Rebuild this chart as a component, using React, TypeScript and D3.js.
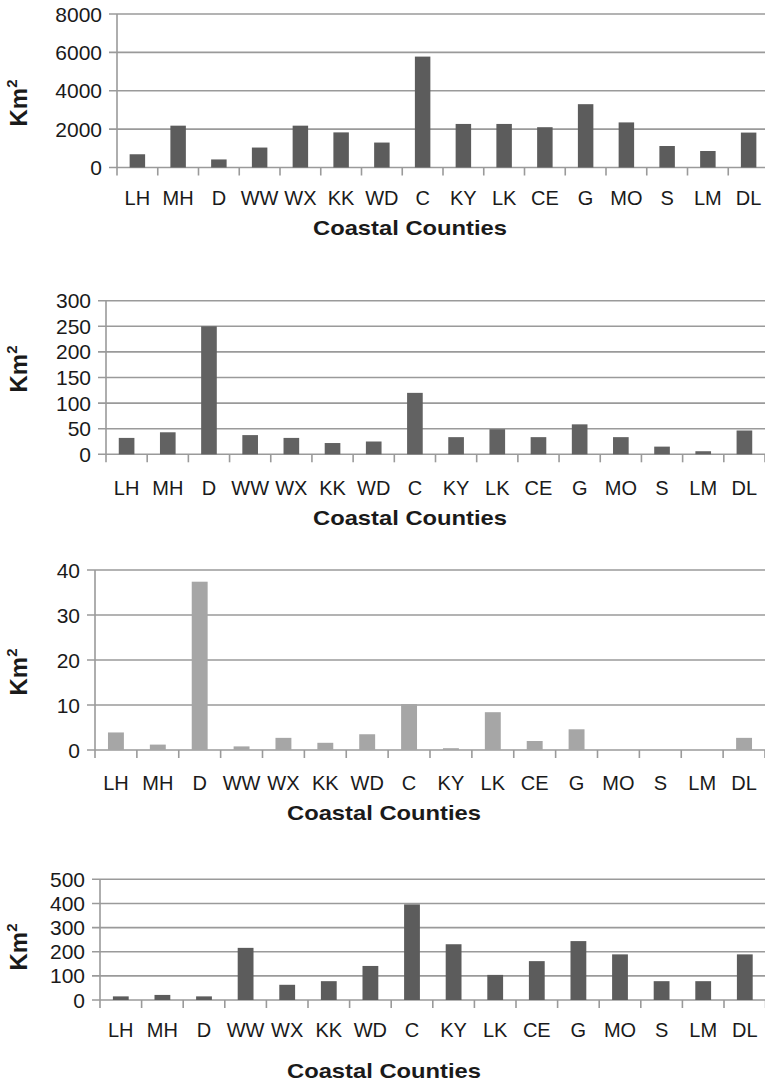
import React from "react";
import * as d3 from "d3";

// Coastal county codes (x-axis categories, shared by all panels)
const counties = ["LH", "MH", "D", "WW", "WX", "KK", "WD", "C", "KY", "LK", "CE", "G", "MO", "S", "LM", "DL"];

// Area per county, one series per panel (km²)
const areaPanelA = [690, 2180, 420, 1040, 2180, 1830, 1300, 5780, 2270, 2270, 2100, 3300, 2350, 1120, 860, 1820];
const areaPanelB = [32, 43, 250, 37.5, 32, 22, 25, 120, 33.5, 49, 33.5, 58.5, 33.5, 15, 6, 46.5];
const areaPanelC = [3.9, 1.2, 37.4, 0.8, 2.7, 1.6, 3.5, 10.2, 0.4, 8.4, 2.0, 4.6, 0, 0, 0, 2.7];
const areaPanelD = [15, 21, 15, 216, 63, 78, 141, 396, 231, 104, 161, 244, 189, 78, 78, 189];

// Y-axis tick values per panel
const ticksA = [0, 2000, 4000, 6000, 8000];
const ticksB = [0, 50, 100, 150, 200, 250, 300];
const ticksC = [0, 10, 20, 30, 40];
const ticksD = [0, 100, 200, 300, 400, 500];

const FONT = "'Liberation Sans', Arial, Helvetica, sans-serif";

type PanelProps = {
  values: number[];
  ticks: number[];
  left: number;
  right: number;
  top: number;
  bottom: number;
  fill: string;
  labelY: number;
  titleY: number;
  titleX: number;
  unitY: number;
};

function Panel(p: PanelProps) {
  const yMax = p.ticks[p.ticks.length - 1];
  const y = d3.scaleLinear().domain([0, yMax]).range([p.bottom, p.top]);
  const x = d3
    .scaleBand<string>()
    .domain(counties)
    .range([p.left, p.right])
    .paddingInner(0.62)
    .paddingOuter(0.31);
  const step = x.step();
  const grid = "#9a9a9a";

  return (
    <g>
      {/* horizontal gridlines with left tick stubs */}
      {p.ticks.map((t) => (
        <line
          key={"g" + t}
          x1={p.left - 8}
          x2={p.right}
          y1={y(t)}
          y2={y(t)}
          stroke={grid}
          strokeWidth={1.6}
        />
      ))}
      {/* y axis line */}
      <line x1={p.left} x2={p.left} y1={y(yMax)} y2={p.bottom + 8} stroke={grid} strokeWidth={1.6} />
      {/* category boundary ticks */}
      {counties.map((c, i) => (
        <line
          key={"t" + c}
          x1={p.left + step * (i + 1)}
          x2={p.left + step * (i + 1)}
          y1={p.bottom}
          y2={p.bottom + 8}
          stroke={grid}
          strokeWidth={1.6}
        />
      ))}
      {/* bars */}
      {counties.map((c, i) => (
        <rect
          key={"b" + c}
          x={x(c)}
          y={y(p.values[i])}
          width={x.bandwidth()}
          height={p.bottom - y(p.values[i])}
          fill={p.fill}
        />
      ))}
      {/* y tick labels */}
      {p.ticks.map((t) => (
        <text
          key={"l" + t}
          x={p.left - 15}
          y={y(t)}
          dy="0.36em"
          textAnchor="end"
          fontFamily={FONT}
          fontSize={21}
          fill="#1a1a1a"
        >
          {t}
        </text>
      ))}
      {/* category labels */}
      {counties.map((c) => (
        <text
          key={"c" + c}
          x={(x(c) as number) + x.bandwidth() / 2}
          y={p.labelY}
          textAnchor="middle"
          fontFamily={FONT}
          fontSize={20}
          fill="#1a1a1a"
        >
          {c}
        </text>
      ))}
      {/* x axis title */}
      <text
        x={p.titleX}
        y={p.titleY}
        textAnchor="middle"
        fontFamily={FONT}
        fontSize={21}
        fontWeight="bold"
        fill="#1a1a1a"
        textLength={194}
        lengthAdjust="spacingAndGlyphs"
      >
        Coastal Counties
      </text>
      {/* y axis title */}
      <text
        transform={`translate(27,${p.unitY}) rotate(-90)`}
        textAnchor="middle"
        fontFamily={FONT}
        fontSize={24}
        fontWeight="bold"
        fill="#1a1a1a"
      >
        Km
        <tspan fontSize={15} dy={-10}>
          2
        </tspan>
      </text>
    </g>
  );
}

export default function App() {
  return (
    <svg
      width={765}
      height={1083}
      style={{ position: "absolute", left: 0, top: 0, background: "#fff" }}
    >
      <rect width={765} height={1083} fill="#fff" />
      <Panel values={areaPanelA} ticks={ticksA} left={117} right={769} top={14} bottom={167.5}
        fill="#5c5c5c" labelY={205} titleY={235} titleX={410} unitY={103} />
      <Panel values={areaPanelB} ticks={ticksB} left={106} right={765} top={300.7} bottom={454.3}
        fill="#626262" labelY={495} titleY={525} titleX={410} unitY={369} />
      <Panel values={areaPanelC} ticks={ticksC} left={95} right={765} top={570} bottom={750}
        fill="#a6a6a6" labelY={790} titleY={820} titleX={384} unitY={672} />
      <Panel values={areaPanelD} ticks={ticksD} left={100} right={765.6} top={879.3} bottom={1000}
        fill="#5c5c5c" labelY={1037} titleY={1078} titleX={384} unitY={947} />
    </svg>
  );
}
